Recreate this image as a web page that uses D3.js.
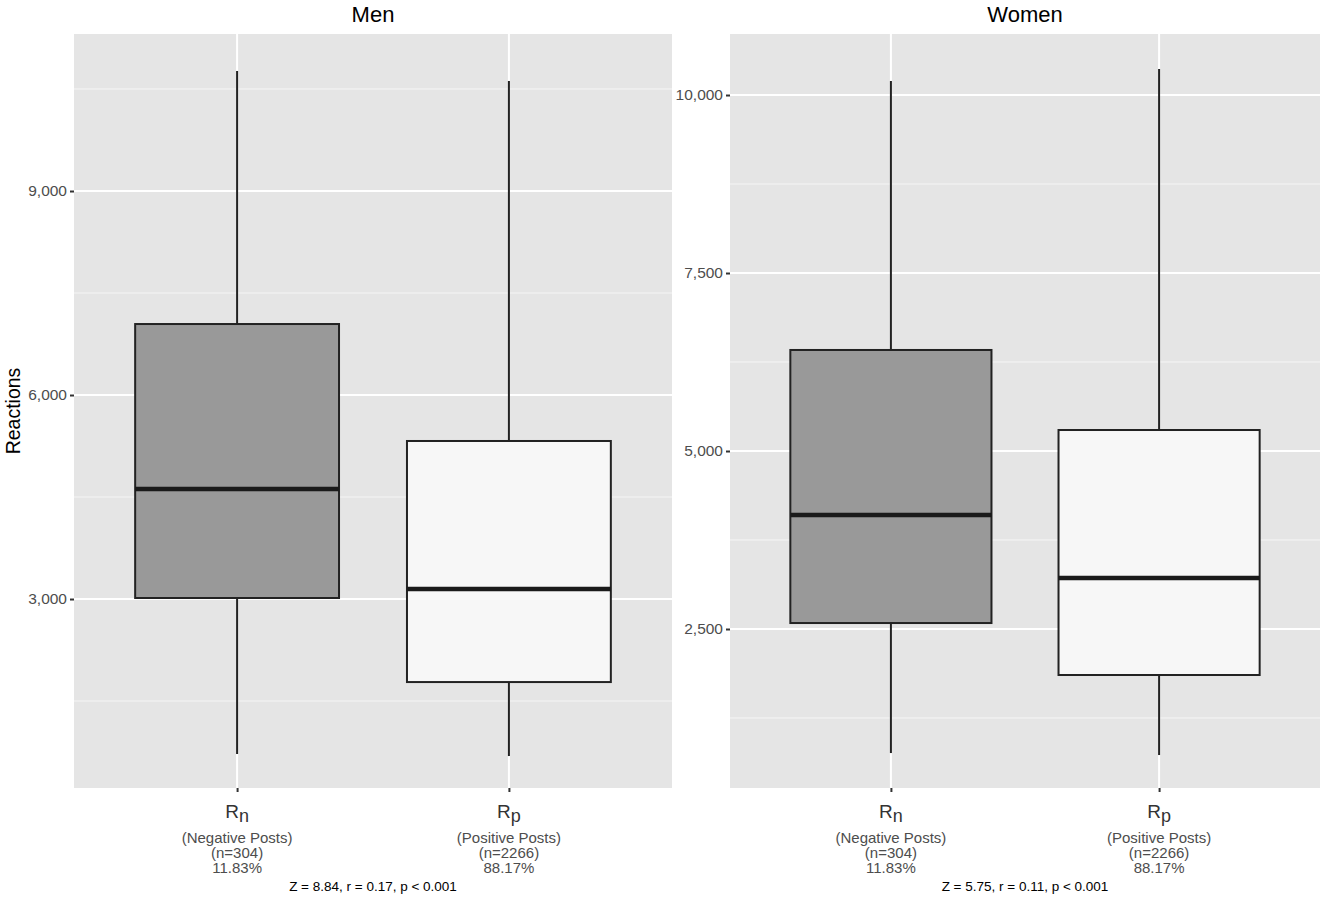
<!DOCTYPE html>
<html>
<head>
<meta charset="utf-8">
<script src="https://cdn.jsdelivr.net/npm/d3@7"></script>
<style>
  body { margin: 0; background: #fff; }
  text { font-family: "Liberation Sans", Arial, Helvetica, sans-serif; }
</style>
</head>
<body>
<svg id="chart" width="1325" height="901"></svg>
<script>
// ---- Data ----
const categories = ["Rn", "Rp"];
const subLetters = ["n", "p"];
const catLabels = ["(Negative Posts)", "(Positive Posts)"];
const catCounts = ["(n=304)", "(n=2266)"];
const catPercents = ["11.83%", "88.17%"];
const boxFills = ["#999999", "#f7f7f7"];

const panelTitles = ["Men", "Women"];
const panelStats = ["Z = 8.84, r = 0.17, p < 0.001", "Z = 5.75, r = 0.11, p < 0.001"];

// Men: per category
const menWhiskerLow  = [721, 691];
const menQ1          = [3015, 1779];
const menMedian      = [4618, 3147];
const menQ3          = [7044, 5324];
const menWhiskerHigh = [10765, 10618];

// Women: per category
const womenWhiskerLow  = [758, 730];
const womenQ1          = [2584, 1854];
const womenMedian      = [4101, 3216];
const womenQ3          = [6419, 5295];
const womenWhiskerHigh = [10197, 10365];

const menMajorTicks = [3000, 6000, 9000];
const menMinorTicks = [1500, 4500, 7500, 10500];
const womenMajorTicks = [2500, 5000, 7500, 10000];
const womenMinorTicks = [1250, 3750, 6250, 8750];
const menDomain = [221, 11309];
const womenDomain = [267, 10857];

// ---- Layout ----
const svg = d3.select("#chart");
const plotTop = 34, plotBottom = 788;
const fmt = d3.format(",");

const panels = [
  { x0: 74, x1: 672, title: panelTitles[0], stat: panelStats[0], domain: menDomain,
    major: menMajorTicks, minor: menMinorTicks,
    low: menWhiskerLow, q1: menQ1, med: menMedian, q3: menQ3, high: menWhiskerHigh },
  { x0: 730, x1: 1320, title: panelTitles[1], stat: panelStats[1], domain: womenDomain,
    major: womenMajorTicks, minor: womenMinorTicks,
    low: womenWhiskerLow, q1: womenQ1, med: womenMedian, q3: womenQ3, high: womenWhiskerHigh }
];

panels.forEach(p => {
  const g = svg.append("g");
  const x = d3.scalePoint().domain(categories).range([p.x0, p.x1]).padding(0.6);
  const y = d3.scaleLinear().domain(p.domain).range([plotBottom, plotTop]);
  const bw = x.step() * 0.75;

  g.append("rect").attr("x", p.x0).attr("y", plotTop)
    .attr("width", p.x1 - p.x0).attr("height", plotBottom - plotTop).attr("fill", "#e5e5e5");

  g.selectAll(".minor").data(p.minor).enter().append("line")
    .attr("x1", p.x0).attr("x2", p.x1)
    .attr("y1", d => y(d)).attr("y2", d => y(d))
    .attr("stroke", "#f6f6f6").attr("stroke-width", 1);
  g.selectAll(".major").data(p.major).enter().append("line")
    .attr("x1", p.x0).attr("x2", p.x1)
    .attr("y1", d => y(d)).attr("y2", d => y(d))
    .attr("stroke", "#ffffff").attr("stroke-width", 2);
  g.selectAll(".vgrid").data(categories).enter().append("line")
    .attr("x1", d => x(d)).attr("x2", d => x(d))
    .attr("y1", plotTop).attr("y2", plotBottom)
    .attr("stroke", "#ffffff").attr("stroke-width", 2);

  const yAxis = d3.axisLeft(y).tickValues(p.major).tickFormat(fmt).tickSize(4).tickPadding(3);
  const ya = g.append("g").attr("transform", `translate(${p.x0},0)`).call(yAxis);
  ya.select(".domain").remove();
  ya.selectAll(".tick line").attr("stroke", "#333").attr("stroke-width", 2);
  ya.selectAll(".tick text").attr("fill", "#4d4d4d").style("font-size", "15.5px")
    .style("font-family", "'Liberation Sans', Arial, sans-serif");

  const xAxis = d3.axisBottom(x).tickSize(4).tickFormat("");
  const xa = g.append("g").attr("transform", `translate(0,${plotBottom})`).call(xAxis);
  xa.select(".domain").remove();
  xa.selectAll(".tick line").attr("stroke", "#333").attr("stroke-width", 2);

  categories.forEach((c, i) => {
    const cx = x(c);
    g.append("line").attr("x1", cx).attr("x2", cx)
      .attr("y1", y(p.high[i])).attr("y2", y(p.q3[i]))
      .attr("stroke", "#222").attr("stroke-width", 2);
    g.append("line").attr("x1", cx).attr("x2", cx)
      .attr("y1", y(p.q1[i])).attr("y2", y(p.low[i]))
      .attr("stroke", "#222").attr("stroke-width", 2);
    g.append("rect").attr("x", cx - bw / 2).attr("y", y(p.q3[i]))
      .attr("width", bw).attr("height", y(p.q1[i]) - y(p.q3[i]))
      .attr("fill", boxFills[i]).attr("stroke", "#222").attr("stroke-width", 2);
    g.append("line").attr("x1", cx - bw / 2).attr("x2", cx + bw / 2)
      .attr("y1", y(p.med[i])).attr("y2", y(p.med[i]))
      .attr("stroke", "#1a1a1a").attr("stroke-width", 4.5);

    const t = g.append("text").attr("x", cx).attr("y", 818)
      .attr("text-anchor", "middle").attr("fill", "#333").style("font-size", "19px");
    t.append("tspan").text("R");
    t.append("tspan").text(subLetters[i]).attr("dy", 4).style("font-size", "18px");
    [catLabels[i], catCounts[i], catPercents[i]].forEach((s, k) => {
      g.append("text").attr("x", cx).attr("y", 843 + k * 15)
        .attr("text-anchor", "middle").attr("fill", "#4d4d4d")
        .style("font-size", "15px").text(s);
    });
  });

  g.append("text").attr("x", (p.x0 + p.x1) / 2).attr("y", 22)
    .attr("text-anchor", "middle").attr("fill", "#000").style("font-size", "22px").text(p.title);
  g.append("text").attr("x", (p.x0 + p.x1) / 2).attr("y", 891)
    .attr("text-anchor", "middle").attr("fill", "#000").style("font-size", "13.5px").text(p.stat);
});

svg.append("text").attr("transform", `translate(20,${(plotTop + plotBottom) / 2}) rotate(-90)`)
  .attr("text-anchor", "middle").attr("fill", "#000").style("font-size", "19.5px").text("Reactions");
</script>
</body>
</html>
